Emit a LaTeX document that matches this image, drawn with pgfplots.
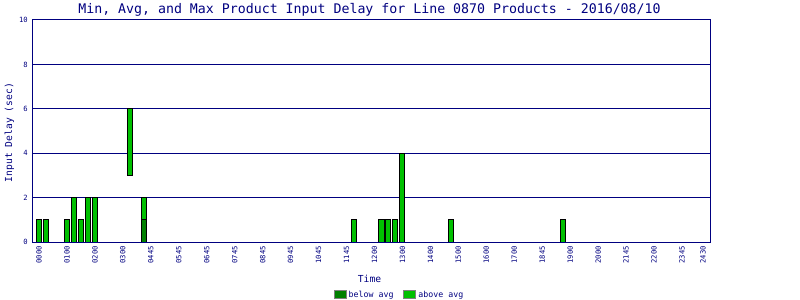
\documentclass[border=0pt]{standalone}
\usepackage{fontspec}
\setmainfont{DejaVu Sans Mono}
\usepackage{pgfplots}
\pgfplotsset{compat=1.18}
\definecolor{navy}{RGB}{0,0,128}
\definecolor{dkgreen}{RGB}{0,128,0}
\definecolor{ltgreen}{RGB}{0,192,0}
\pgfplotsset{mylegend/.style={legend image code/.code={\draw[##1, draw=gray, line width=1bp] (0bp,-4bp) rectangle (12bp,4bp);}}}
\begin{document}
\begin{tikzpicture}
\path[use as bounding box] (0,0) rectangle (800bp,300bp);
\begin{axis}[
  at={(32bp,58bp)}, anchor=south west,
  width=678bp, height=222bp, scale only axis,
  xmin=-1, xmax=96, ymin=0, ymax=10,
  ybar stacked, bar width=0.72,
  axis line style={navy, line width=1bp},
  ymajorgrids, grid style={navy, line width=1bp},
  major tick length=0pt,
  ytick={0,2,4,6,8,10},
  xtick={0,4,8,12,16,20,24,28,32,36,40,44,48,52,56,60,64,68,72,76,80,84,88,92,95},
  xticklabels={0000,0100,0200,0300,0445,0545,0645,0745,0845,0945,1045,1145,1200,1300,1400,1500,1600,1700,1845,1900,2000,2145,2200,2345,2430},
  /pgf/number format/assume math mode=true,
  x tick label style={yshift=-4bp, rotate=90, anchor=east, inner sep=0pt, font=\fontsize{7.2}{8}\selectfont, text=navy},
  y tick label style={xshift=-4bp, anchor=east, inner sep=0pt, font=\fontsize{7.2}{8}\selectfont, text=navy},
  title={Min, Avg, and Max Product Input Delay for Line 0870 Products - 2016/08/10},
  title style={at={(axis description cs:0.5,1)}, anchor=base, yshift=0.7bp, xshift=-1.5bp, inner sep=0pt, font=\fontsize{13.3}{15}\selectfont, text=navy},
  xlabel={Time},
  xlabel style={at={(axis description cs:0.5,0)}, anchor=base, yshift=-40bp, xshift=-1.5bp, inner sep=0pt, font=\fontsize{9.7}{11}\selectfont, text=navy},
  ylabel={Input Delay (sec)},
  ylabel style={at={(axis description cs:-0.0295,0.493)}, anchor=base, rotate=0, inner sep=0pt, font=\fontsize{9.7}{11}\selectfont, text=navy},
  legend columns=2,
  legend style={at={(axis description cs:0.542,-0.2387)}, anchor=center, draw=none, fill=none, inner sep=0pt, font=\fontsize{8.3}{9}\selectfont, nodes={text=navy}, /tikz/every even column/.append style={column sep=8bp}},
]
\addplot[draw=none, fill=none, forget plot] coordinates {
(0,0) (1,0) (4,0) (5,0) (6,0) (7,0) (8,0) (13,3) (15,0) (45,0) (49,0) (50,0) (51,0) (52,0) (59,0) (75,0)};
\addplot[draw=black, line width=1bp, fill=dkgreen, mylegend] coordinates {
(0,0) (1,0) (4,0) (5,0) (6,0) (7,0) (8,0) (13,0) (15,1) (45,0) (49,0) (50,0) (51,0) (52,0) (59,0) (75,0)};
\addlegendentry{below avg}
\addplot[draw=black, line width=1bp, fill=ltgreen, mylegend] coordinates {
(0,1) (1,1) (4,1) (5,2) (6,1) (7,2) (8,2) (13,3) (15,1) (45,1) (49,1) (50,1) (51,1) (52,4) (59,1) (75,1)};
\addlegendentry{above avg}
\end{axis}
\end{tikzpicture}
\end{document}
